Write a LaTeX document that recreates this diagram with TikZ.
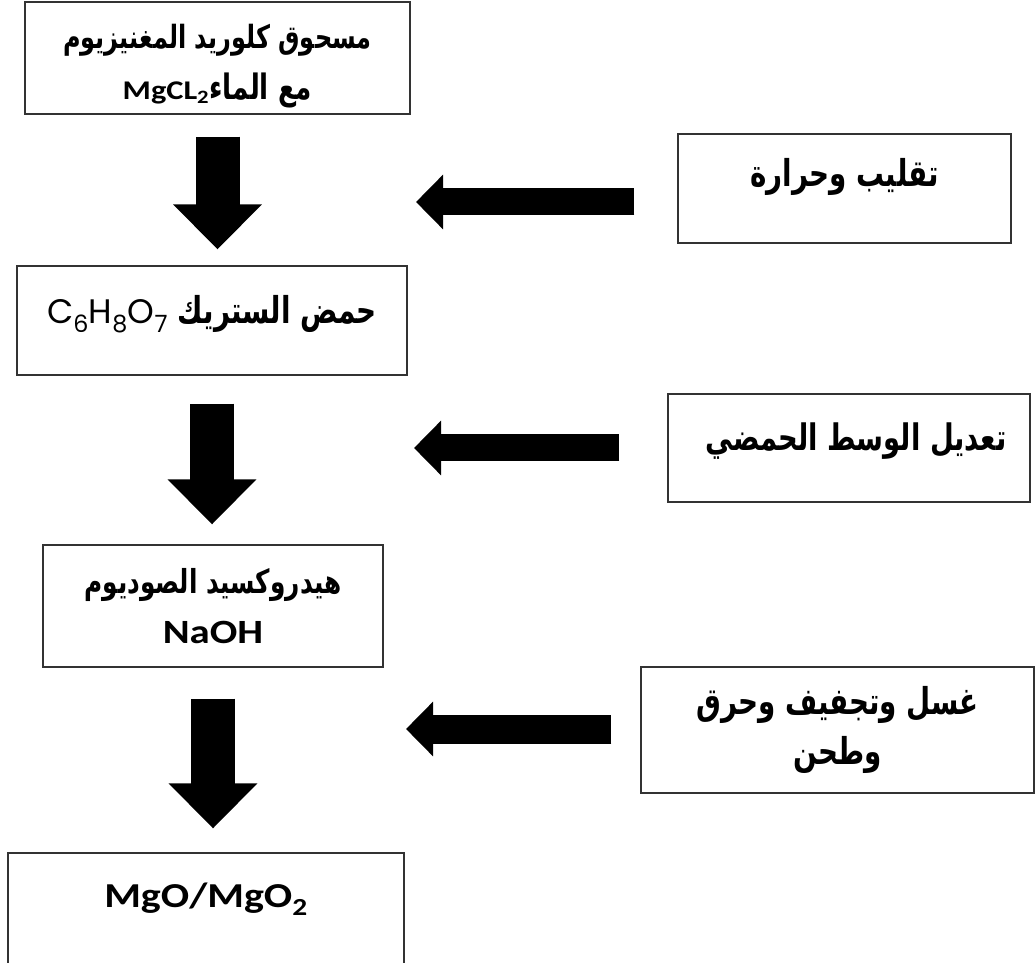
\documentclass[tikz,border=0pt]{standalone}
\usepackage{fontspec}
\setmainfont{Carlito}
\newfontfamily\widefont[FakeStretch=1.2]{Carlito}
\newfontfamily\arabicfont[Script=Arabic,FakeStretch=0.75]{DejaVu Sans}
\newfontfamily\chemfont{Poppins}
\TeXXeTstate=1
\usetikzlibrary{arrows.meta,positioning}

\newcommand{\arab}[1]{{\arabicfont\bfseries\beginR #1\endR}}

\tikzset{
  stepbox/.style={draw=black!80, line width=1.2pt, inner sep=0pt, align=center},
  flowarrow/.style={line width=44pt, -{Triangle[width=86pt,length=45pt]}},
  sidearrow/.style={line width=27pt, -{Triangle[width=53pt,length=27pt]}}
}

\begin{document}
\begin{tikzpicture}[x=1pt,y=1pt]
  \useasboundingbox (0,0) rectangle (1035,962);

  % main chain
  \node[stepbox, minimum width=385pt, minimum height=112pt,
        text height=88pt, text depth=4pt,
        font=\fontsize{32}{51}\selectfont] (mix) at (217.5,904)
    {\arab{مسحوق كلوريد المغنيزيوم}\\
     {\arabicfont\bfseries\fontsize{35}{51}\selectfont\beginR مع الماء\beginL{\widefont\fontsize{27}{51}\selectfont\bfseries MgCL\textsubscript{2}}\endL\endR}};
  \node[stepbox, minimum width=390pt, minimum height=109pt,
        text height=20pt, text depth=14pt,
        font=\fontsize{37}{40}\selectfont] (citric) at (212,641.5)
    {{\arabicfont\bfseries\beginR حمض الستريك \beginL{\chemfont\mdseries\fontsize{34}{40}\selectfont C\textsubscript{6}H\textsubscript{8}O\textsubscript{7}}\endL\endR}};
  \node[stepbox, minimum width=340pt, minimum height=122pt,
        font=\fontsize{33}{50}\selectfont] (naoh) at (213,356)
    {\arab{هيدروكسيد الصوديوم}\\
     {\widefont\fontsize{34}{50}\selectfont\bfseries NaOH}};
  \node[stepbox, minimum width=396pt, minimum height=122pt,
        text height=25pt, text depth=38pt,
        font=\widefont\fontsize{35}{40}\selectfont\bfseries] (oxide) at (206,48)
    {MgO/MgO\textsubscript{2}};

  % side steps
  \node[stepbox, minimum width=333pt, minimum height=109pt,
        text height=22pt, text depth=26pt,
        font=\fontsize{37}{40}\selectfont] (stir) at (844.5,773.5)
    {\arab{تقليب وحرارة}};
  \node[stepbox, minimum width=362pt, minimum height=108pt,
        text height=22pt, text depth=16pt,
        font=\fontsize{36.5}{40}\selectfont] (neutral) at (849,514)
    {\hspace*{14pt}\arab{تعديل الوسط الحمضي}};
  \node[stepbox, minimum width=393pt, minimum height=126pt,
        font=\fontsize{37}{50}\selectfont] (wash) at (837.5,232)
    {\arab{غسل وتجفيف وحرق}\\ \arab{وطحن}};

  % arrow tips of the side arrows
  \coordinate (t1) at (416,760);
  \coordinate (t2) at (414,514);
  \coordinate (t3) at (406,233);

  % connectors
  \draw[flowarrow, shorten <=22pt, shorten >=16pt] (mix.south) -- (mix.south |- citric.north);
  \draw[flowarrow, shorten <=28pt, shorten >=20pt] (citric.south) -- (citric.south |- naoh.north);
  \draw[flowarrow, shorten <=31pt, shorten >=24pt] (naoh.south) -- (naoh.south |- oxide.north);
  \draw[sidearrow, shorten <=43pt] (stir.west |- t1) -- (t1);
  \draw[sidearrow, shorten <=48pt] (neutral.west |- t2) -- (t2);
  \draw[sidearrow, line width=29pt, shorten <=29pt] (wash.west |- t3) -- (t3);
\end{tikzpicture}
\end{document}
